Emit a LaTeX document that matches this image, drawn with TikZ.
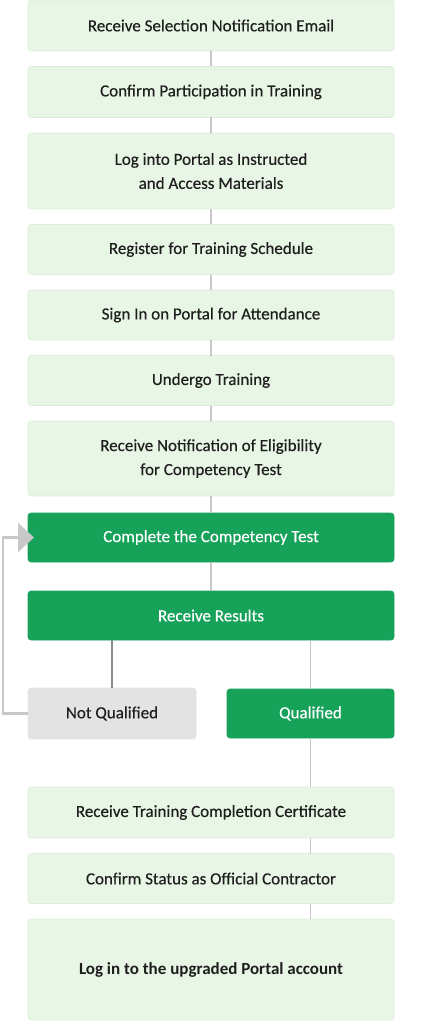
\documentclass[tikz,border=0pt]{standalone}
\usepackage{fontspec}
\setmainfont{Carlito}
\newfontface\medfont{Carlito}[FakeBold=0.35]
\usepackage{tikz}
\usetikzlibrary{arrows.meta,positioning}
\definecolor{paleg}{HTML}{E8F6E5}
\definecolor{paleline}{HTML}{DDEEDA}
\definecolor{darkg}{HTML}{17A25A}
\definecolor{greybox}{HTML}{E3E3E3}
\definecolor{wire}{HTML}{C8C8C8}
\definecolor{wiredark}{HTML}{8C8C8C}
\definecolor{ink}{HTML}{1E1E1E}

\begin{document}
\begin{tikzpicture}[x=1pt,y=-1pt,node distance=15.5pt]
      \tikzstyle{lbox}=[rectangle,rounded corners=3pt,fill=paleg,draw=paleline,line width=0.6pt,minimum width=366pt,minimum height=50pt,inner sep=0pt,outer sep=0pt,align=center,text=ink,font=\fontsize{17}{24}\medfont]
      \tikzstyle{gbox}=[lbox,fill=darkg,draw=darkg,text=white]
      \tikzstyle{nbox}=[lbox,fill=greybox,draw=greybox,minimum width=168pt]
      \tikzstyle{wire}=[draw=wire,line width=1.3pt]
      \useasboundingbox (0,0) rectangle (420,1024);
      \node[lbox,minimum height=51pt] (email) at (211,25.5) {Receive Selection Notification Email};
      \node[lbox,minimum height=51pt,below=of email] (confirm) {Confirm Participation in Training};
      \node[lbox,minimum height=76pt,below=of confirm] (portal) {Log into Portal as Instructed\\and Access Materials};
      \node[lbox,below=of portal] (register) {Register for Training Schedule};
      \node[lbox,below=of register] (signin) {Sign In on Portal for Attendance};
      \node[lbox,below=of signin] (train) {Undergo Training};
      \node[lbox,minimum height=75pt,below=of train] (elig) {Receive Notification of Eligibility\\for Competency Test};
      \node[gbox,minimum height=49pt,below=17pt of elig] (test) {Complete the Competency Test};
      \node[gbox,minimum height=49pt,below=29pt of test] (results) {Receive Results};
      \node[nbox,minimum height=51pt,below right=48pt and 0pt of results.south west] (notq) {Not Qualified};
      \node[gbox,minimum width=167pt,minimum height=49pt,below left=49pt and 0pt of results.south east] (qual) {Qualified};
      \coordinate (mid) at (results.south |- qual.south);
      \node[lbox,minimum height=51pt,below=49pt of mid] (cert) {Receive Training Completion Certificate};
      \node[lbox,below=of cert] (status) {Confirm Status as Official Contractor};
      \node[lbox,minimum height=101pt,below=of status,font=\fontsize{17}{24}\selectfont\bfseries] (login) {Log in to the upgraded Portal account};
      % connectors
      \foreach \a/\b in {email/confirm,confirm/portal,portal/register,register/signin,signin/train,train/elig,elig/test,test/results}
        \draw[wire] (\a.south) -- (\b.north);
      \draw[wire,draw=wiredark] (results.south -| notq) -- (notq.north);
      \draw[wire] (results.south -| qual) -- (qual.north);
      \draw[wire] (qual.south) -- (cert.north -| qual);
      \draw[wire] (cert.south -| qual) -- (status.north -| qual);
      \draw[wire] (status.south -| qual) -- (login.north -| qual);
      % retry loop
      \coordinate (loop) at (3,0);
      \draw[draw=wire,line width=2.6pt,shorten >=-6pt,-{Triangle[length=16pt,width=29pt]}]
        (notq.west) -- (notq.west -| loop) |- (test.west);
    \end{tikzpicture}
\end{document}
